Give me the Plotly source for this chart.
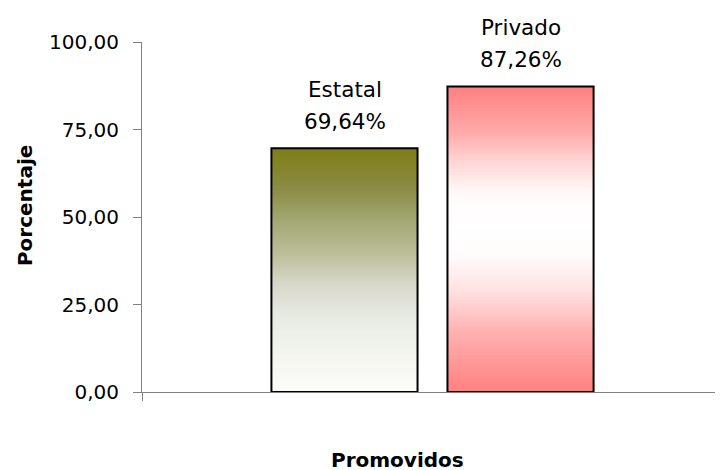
import plotly.graph_objects as go

# ---- data ----
categories = ["Promovidos"]
series_names = ["Estatal", "Privado"]
values = [69.64, 87.26]
y_tick_values = [0, 25, 50, 75, 100]
y_title = "Porcentaje"
x_title = "Promovidos"

# ---- style ----
FONT = "DejaVu Sans, Liberation Sans, Arial, sans-serif"
N_SEG = 100
AXIS_GRAY = "#808080"
PAGE_OFFSET = 8  # default body margin of the written html page

gradient_stops = {
    "Estatal": [
        (0.00, (252, 252, 248)),
        (0.14, (245, 246, 240)),
        (0.31, (232, 234, 228)),
        (0.445, (215, 215, 200)),
        (0.58, (185, 188, 150)),
        (0.72, (160, 165, 110)),
        (0.83, (140, 140, 70)),
        (1.00, (126, 126, 24)),
    ],
    "Privado": [
        (0.00, (255, 128, 128)),
        (0.20, (255, 178, 178)),
        (0.33, (255, 225, 225)),
        (0.45, (255, 252, 252)),
        (0.55, (255, 255, 255)),
        (0.65, (255, 250, 250)),
        (0.75, (255, 215, 215)),
        (0.85, (255, 170, 170)),
        (1.00, (255, 128, 128)),
    ],
}
label_xshift = {"Estatal": -88, "Privado": 88}


def interp(stops, f):
    for (f0, c0), (f1, c1) in zip(stops[:-1], stops[1:]):
        if f0 <= f <= f1:
            t = (f - f0) / (f1 - f0) if f1 > f0 else 0
            c = [round(a + (b - a) * t) for a, b in zip(c0, c1)]
            return "rgb(%d,%d,%d)" % tuple(c)
    c = stops[-1][1]
    return "rgb(%d,%d,%d)" % tuple(c)


fig = go.Figure()

for name, v in zip(series_names, values):
    step = v / N_SEG
    bases = [k * step for k in range(N_SEG)]
    heights = [min(step * 1.8, v - b) for b in bases]
    colors = [interp(gradient_stops[name], (k + 0.5) / N_SEG) for k in range(N_SEG)]
    # gradient fill, built as thin stacked slices of the bar
    fig.add_trace(go.Bar(
        x=categories * N_SEG, y=heights, base=bases, offsetgroup=name,
        marker=dict(color=colors, line=dict(width=0)),
        hoverinfo="skip", showlegend=False,
    ))
    # outline of the full bar
    fig.add_trace(go.Bar(
        x=categories, y=[v], offsetgroup=name, name=name,
        marker=dict(color="rgba(0,0,0,0)", line=dict(color="black", width=2)),
        showlegend=False,
    ))

annotations = []
for name, v in zip(series_names, values):
    val_txt = ("%.2f" % v).replace(".", ",") + "%"
    annotations.append(dict(
        x=categories[0], y=v, xref="x", yref="y", text=val_txt,
        showarrow=False, xshift=label_xshift[name], yshift=27,
        yanchor="middle", xanchor="center",
        font=dict(family=FONT, size=21.5, color="black"),
    ))
    annotations.append(dict(
        x=categories[0], y=v, xref="x", yref="y", text=name,
        showarrow=False, xshift=label_xshift[name], yshift=59,
        yanchor="middle", xanchor="center",
        font=dict(family=FONT, size=21.5, color="black"),
    ))

annotations.append(dict(
    x=-0.2014, y=0.534, xref="paper", yref="paper", text="<b>%s</b>" % y_title,
    textangle=-90, showarrow=False, xanchor="center", yanchor="middle",
    font=dict(family=FONT, size=20, color="black"),
))
annotations.append(dict(
    x=0.4406, y=-0.194, xref="paper", yref="paper", text="<b>%s</b>" % x_title,
    showarrow=False, xanchor="center", yanchor="middle",
    font=dict(family=FONT, size=20, color="black"),
))

fig.update_layout(
    width=723 - PAGE_OFFSET, height=470 - PAGE_OFFSET,
    margin=dict(l=142 - PAGE_OFFSET, r=0, t=42 - PAGE_OFFSET, b=78, pad=0),
    paper_bgcolor="white", plot_bgcolor="white",
    barmode="group", bargap=0.394, bargroupgap=0.17,
    separators=",.",
    showlegend=False,
    font=dict(family=FONT, color="black"),
    annotations=annotations,
    xaxis=dict(
        type="category", showticklabels=False, showgrid=False, zeroline=False,
        showline=True, linecolor=AXIS_GRAY, linewidth=1,
        ticks="outside", tickson="boundaries", ticklen=8, tickcolor=AXIS_GRAY,
    ),
    yaxis=dict(
        range=[0, 100], tickvals=y_tick_values, tickformat=".2f",
        showgrid=False, zeroline=False,
        showline=True, linecolor=AXIS_GRAY, linewidth=1,
        ticks="outside", ticklen=8, tickcolor=AXIS_GRAY,
        ticklabelstandoff=10,
        tickfont=dict(family=FONT, size=20, color="black"),
    ),
)

fig.write_html("out.html")
